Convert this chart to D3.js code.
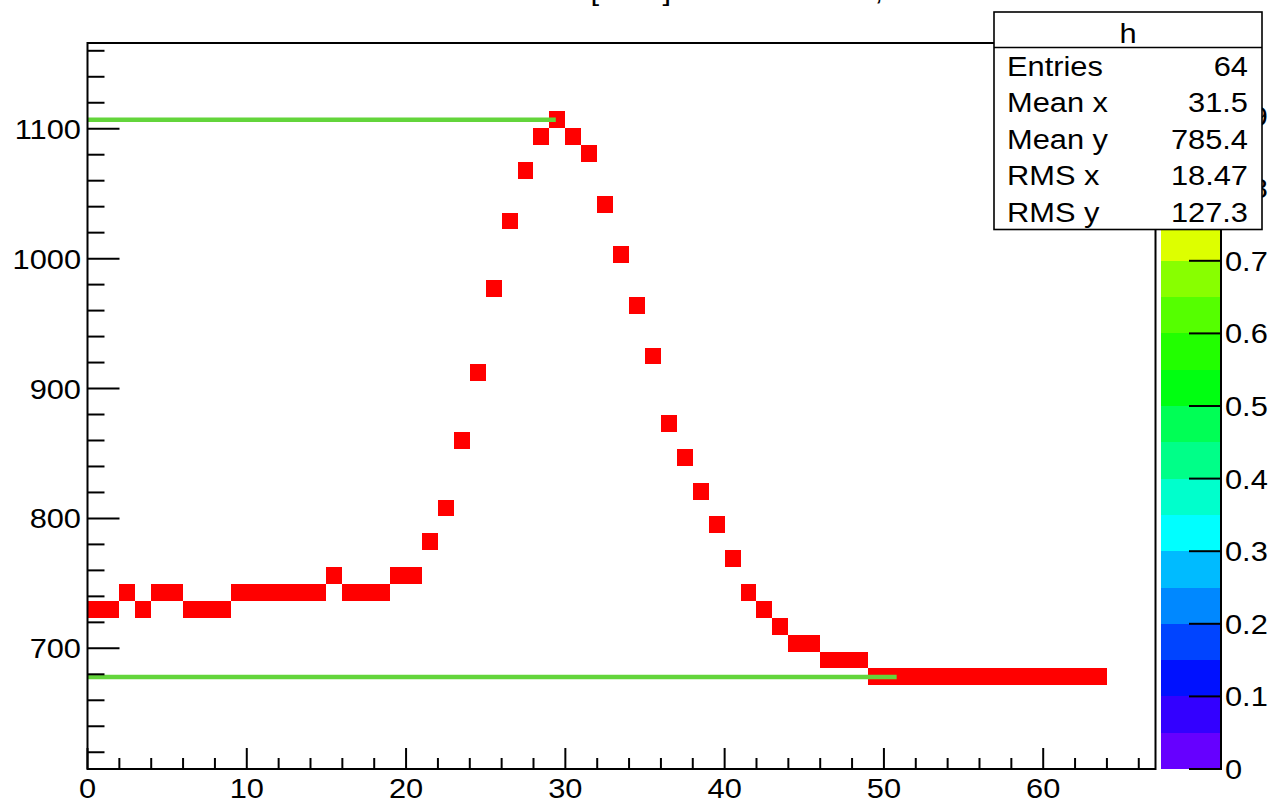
<!DOCTYPE html>
<html>
<head>
<meta charset="utf-8">
<script src="https://cdn.jsdelivr.net/npm/d3@7"></script>
<style>
  html, body { margin: 0; padding: 0; background: #fff; }
  svg { display: block; }
  text { font-family: "Liberation Sans", Arial, Helvetica, sans-serif; fill: #000; }
</style>
</head>
<body>
<svg id="chart" width="1272" height="803"></svg>
<script>
// ---------------- data ----------------
const titleText = "Mean [MeV] vs. channel ID, all events";
// y value (bin centre) of the filled cell in each x bin 0..63
const yValues = [
  730, 730, 743, 730, 743, 743, 730, 730, 730, 743,
  743, 743, 743, 743, 743, 756, 743, 743, 743, 756,
  756, 782, 808, 860, 912, 977, 1029, 1068, 1094, 1107,
  1094, 1081, 1042, 1003, 964, 925, 873, 847, 821, 795,
  769, 743, 730, 717, 704, 704, 691, 691, 691, 678,
  678, 678, 678, 678, 678, 678, 678, 678, 678, 678,
  678, 678, 678, 678
];
const cellContent = 1;            // every filled cell holds one entry -> top of palette
const refLevels = [1107, 678];    // green reference lines (y)
const refEnds = [29.4, 50.8];     // x where each green line ends
const xTickLabels = [0, 10, 20, 30, 40, 50, 60];
const yTickLabels = [700, 800, 900, 1000, 1100];
const zTickLabels = [0, 0.1, 0.2, 0.3, 0.4, 0.5, 0.6, 0.7, 0.8, 0.9, 1];
const paletteColors = [
  "#6600ff", "#3300ff", "#0011ff", "#0044ff", "#0088ff",
  "#00bbff", "#00ffff", "#00ffcc", "#00ff88", "#00ff55",
  "#00ff11", "#22ff00", "#55ff00", "#88ff00", "#ddff00",
  "#ffee00", "#ffbb00", "#ff8800", "#ff4400", "#ff0000"
];
const statsTitle = "h";
const statsLabels = ["Entries", "Mean x", "Mean y", "RMS x", "RMS y"];
const statsValues = ["64", "31.5", "785.4", "18.47", "127.3"];

// ---------------- layout ----------------
const X0 = 87.5, X1 = 1155.5, Y0 = 43, Y1 = 769;
const xDomain = [0, 67.05], yDomain = [607.1, 1166];
const yBinWidth = 13;
const FS = 28, SX = 1.1;

const svg = d3.select("#chart");
const x = d3.scaleLinear().domain(xDomain).range([X0, X1]);
const y = d3.scaleLinear().domain(yDomain).range([Y1, Y0]);
const z = d3.scaleLinear().domain([0, 1]).range([Y1, Y0]);
const zColor = d3.scaleQuantize().domain([0, 1]).range(paletteColors);

function txt(parent, px, py, s, anchor) {
  parent.append("g")
    .attr("transform", `translate(${px},${py}) scale(${SX},1)`)
    .append("text")
    .attr("text-anchor", anchor)
    .attr("font-size", FS)
    .text(s);
}

// title (mostly above the canvas, as in the reference)
txt(svg, 505, -0.5, titleText, "start");

// ---------------- cells ----------------
svg.append("g").selectAll("rect")
  .data(yValues)
  .join("rect")
  .attr("x", (d, i) => x(i))
  .attr("width", (d, i) => x(i + 1) - x(i))
  .attr("y", d => y(d + yBinWidth / 2))
  .attr("height", d => y(d - yBinWidth / 2) - y(d + yBinWidth / 2))
  .attr("fill", zColor(cellContent * 0.999))
  .attr("shape-rendering", "crispEdges");

// ---------------- green reference lines ----------------
svg.append("g").selectAll("line")
  .data(refLevels)
  .join("line")
  .attr("x1", x(0))
  .attr("x2", (d, i) => x(refEnds[i]))
  .attr("y1", d => y(d))
  .attr("y2", d => y(d))
  .attr("stroke", "#63d53b")
  .attr("stroke-width", 4.5);

// ---------------- axes ----------------
const ax = svg.append("g").attr("stroke", "#000").attr("stroke-width", 2);
d3.range(0, 67, 2).forEach(v => {
  const major = v % 10 === 0;
  ax.append("line").attr("x1", x(v)).attr("x2", x(v))
    .attr("y1", Y1).attr("y2", Y1 - (major ? 21 : 11));
});
d3.range(620, 1166, 20).forEach(v => {
  const major = v % 100 === 0;
  ax.append("line").attr("y1", y(v)).attr("y2", y(v))
    .attr("x1", X0).attr("x2", X0 + (major ? 32 : 17));
});
svg.append("rect").attr("x", X0).attr("y", Y0)
  .attr("width", X1 - X0).attr("height", Y1 - Y0)
  .attr("fill", "none").attr("stroke", "#000").attr("stroke-width", 2);

xTickLabels.forEach(v => txt(svg, x(v), 798, String(v), "middle"));
yTickLabels.forEach(v => txt(svg, 81, y(v) + 10, String(v), "end"));

// ---------------- colour bar ----------------
const CB0 = 1161, CB1 = 1221;
const step = 1 / paletteColors.length;
svg.append("g").selectAll("rect")
  .data(paletteColors)
  .join("rect")
  .attr("x", CB0)
  .attr("width", CB1 - CB0)
  .attr("y", (c, i) => z((i + 1) * step))
  .attr("height", (c, i) => z(i * step) - z((i + 1) * step))
  .attr("fill", c => c)
  .attr("shape-rendering", "crispEdges");
svg.append("line").attr("x1", CB1).attr("x2", CB1).attr("y1", Y0).attr("y2", Y1 + 1)
  .attr("stroke", "#000").attr("stroke-width", 2);
zTickLabels.forEach(v => {
  svg.append("line").attr("x1", CB1 - 32).attr("x2", CB1)
    .attr("y1", z(v)).attr("y2", z(v))
    .attr("stroke", "#000").attr("stroke-width", 2);
  txt(svg, 1225, z(v) + 10, String(v), "start");
});

// ---------------- stats box ----------------
const SB = { x0: 994, x1: 1262, y0: 12, y1: 229.5, yh: 47.5 };
svg.append("rect").attr("x", SB.x0).attr("y", SB.y0)
  .attr("width", SB.x1 - SB.x0).attr("height", SB.y1 - SB.y0)
  .attr("fill", "#fff").attr("stroke", "#000").attr("stroke-width", 1.6);
svg.append("line").attr("x1", SB.x0).attr("x2", SB.x1)
  .attr("y1", SB.yh).attr("y2", SB.yh)
  .attr("stroke", "#000").attr("stroke-width", 1.6);
txt(svg, (SB.x0 + SB.x1) / 2, 42.5, statsTitle, "middle");
const rowY = d3.scaleLinear().domain([0, statsLabels.length - 1]).range([76, 221.5]);
statsLabels.forEach((s, i) => {
  txt(svg, 1007, rowY(i), s, "start");
  txt(svg, 1248, rowY(i), statsValues[i], "end");
});
</script>
</body>
</html>
